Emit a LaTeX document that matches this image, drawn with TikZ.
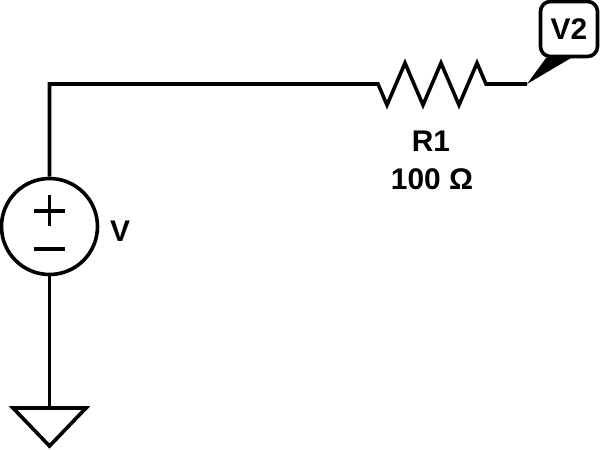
\documentclass[tikz,border=0pt]{standalone}
\usepackage{fontspec}
\setmainfont{Liberation Sans}
\tikzset{wire/.style={line width=0.72mm, line join=miter},
         txt/.style={font=\fontsize{17}{19}\selectfont\bfseries, inner sep=0pt},
         source/.style={draw, circle, line width=0.72mm, minimum size=19.2mm, inner sep=0pt},
         flag/.style={draw, rounded corners=2mm, line width=0.72mm, minimum width=11.4mm, minimum height=11mm, inner sep=0pt}}

\begin{document}
\begin{tikzpicture}[x=0.2mm,y=-0.2mm]
\useasboundingbox (0,0) rectangle (600,449);

\node[source] (v) at (49.5,226.5) {};
\node[txt] (vlab) at (120,231) {V};
\node[txt] (r1lab) at (431,141) {R1};
\node[txt] (r1val) at (432,179) {100 Ω};
\node[flag,txt] (v2) at (569,29) {V2};

\coordinate (corner) at (49.5,84);
\coordinate (rl) at (378,84);
\coordinate (rr) at (486,84);
\coordinate (tip) at (527,84);
\coordinate (gnd) at (49.5,408);
\coordinate (gl) at (13,408);
\coordinate (gr) at (86,408);
\coordinate (ga) at (49.5,446);

\draw[wire] (v) -- (corner) -- (rl) -- (387,105) -- (405,63) -- (423,105) -- (441,63) -- (459,105) -- (477,63) -- (rr) -- (tip);
\draw[wire] (v) -- (gnd);
\draw[wire] (gl) -- (gr) -- (ga) -- cycle;
\fill (tip) -- (546,58) -- (571,58) -- cycle;

% plus and minus
\draw[wire] (34,211) -- (65,211);
\draw[wire] (49.5,195) -- (49.5,226);
\draw[wire] (34,249) -- (65,249);
\end{tikzpicture}
\end{document}
